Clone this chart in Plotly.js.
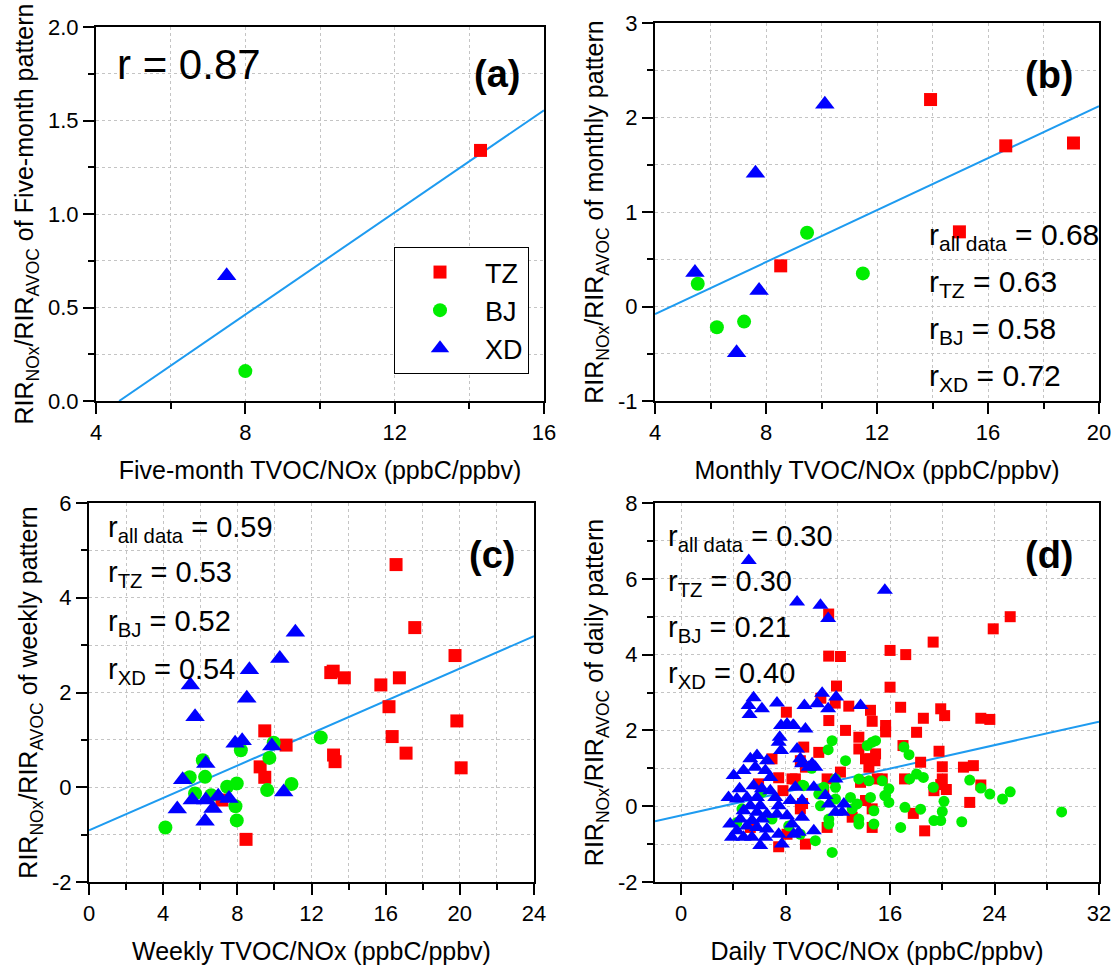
<!DOCTYPE html>
<html>
<head>
<meta charset="utf-8">
<script src="https://cdn.plot.ly/plotly-3.0.1.min.js"></script>
<style>html,body{margin:0;padding:0;background:#fff;}#chart{width:1119px;height:974px;}</style>
</head>
<body>
<div id="chart"></div>
<script>
// ---------- Panel (a): five-month pattern ----------
const a_tz_x = [14.3], a_tz_y = [1.34];
const a_bj_x = [8.0],  a_bj_y = [0.16];
const a_xd_x = [7.5],  a_xd_y = [0.67];
const a_fit_x = [4.62, 16], a_fit_y = [0, 1.555];

// ---------- Panel (b): monthly pattern ----------
const b_tz_x = [13.93, 16.64, 19.08, 14.97, 8.53];
const b_tz_y = [2.19, 1.70, 1.73, 0.79, 0.43];
const b_bj_x = [5.54, 6.23, 7.21, 9.48, 11.49];
const b_bj_y = [0.24, -0.22, -0.16, 0.78, 0.35];
const b_xd_x = [10.12, 7.62, 5.44, 7.75, 6.94];
const b_xd_y = [2.14, 1.41, 0.36, 0.17, -0.49];
const b_fit_x = [4, 20], b_fit_y = [-0.08, 2.12];

// ---------- Panel (c): weekly pattern ----------
const c_tz_x = [16.56,17.57,19.74,13.04,13.17,13.77,15.74,16.74,16.18,19.84,16.35,17.10,20.07,13.19,13.27,9.48,10.63,9.23,9.48,8.47,7.17];
const c_tz_y = [4.70,3.37,2.78,2.42,2.45,2.31,2.16,2.31,1.70,1.40,1.07,0.72,0.41,0.68,0.54,1.19,0.89,0.43,0.21,-1.10,-0.27];
const c_bj_x = [4.12,5.43,5.72,6.14,6.26,6.59,7.45,7.97,7.90,7.97,8.19,9.61,9.73,9.96,10.92,12.50];
const c_bj_y = [-0.85,0.21,-0.13,0.57,0.22,-0.17,0.01,0.08,-0.40,-0.70,0.78,-0.06,0.62,0.94,0.07,1.05];
const c_xd_x = [5.47,5.72,8.65,8.51,10.29,11.13,7.88,8.26,9.86,6.30,5.05,4.76,5.57,6.26,6.30,6.69,6.97,7.55,10.50];
const c_xd_y = [2.16,1.49,2.48,1.88,2.72,3.27,0.93,0.98,0.87,0.50,0.16,-0.46,-0.27,-0.72,-0.27,-0.45,-0.19,-0.24,-0.10];
const c_fit_x = [0, 24], c_fit_y = [-0.91, 3.19];

// ---------- Panel (d): daily pattern ----------
const d_tz_x = [11.3,25.2,23.9,19.3,16.0,17.2,11.3,12.2,16.0,11.9, 8.06,10.7,11.8,12.84,14.5,14.63,11.31,15.66,15.66,12.59,
  13.61,13.61,14.89,14.5,14.12,10.54,9.39,14.38,12.2,9.13, 8.75,9.52,11.18,13.74,15.4,14.63,13.1,14.12,11.18,9.52,
  9.13,10.92,14.63,6.96,7.47,8.49,7.8,5.3,7.47,8.11, 5.93,9.3,16.81,19.88,20.18,18.55,22.95,23.64,18.03,16.99,
  19.75,18.34,20.0,21.62,22.38,17.11,20.0,19.88,19.36,20.31, 22.95,22.1,17.78,18.65,15.02,14.84];
const d_tz_y = [5.07,5.0,4.68,4.33,4.11,4.0,3.96,3.95,3.14,3.17, 2.48,2.85,2.72,2.64,2.53,2.24,2.26,2.13,1.96,2.0,
  1.82,1.51,1.38,1.25,1.25,1.42,1.56,1.03,0.9,1.2, 0.72,1.03,0.72,0.63,0.72,-0.07,-0.29,0.15,-0.56,-1.0,
  -0.07,0.41,-0.56,1.25,0.75,0.72,0.41,-0.56,-1.07,-0.74, 0.59,0.07,2.61,2.57,2.39,2.32,2.32,2.29,1.95,1.6,
  1.45,1.16,1.04,1.03,1.07,0.72,0.72,0.57,0.41,0.44, 0.56,0.1,-0.19,-0.65,0.72,1.2];
const d_bj_x = [11.56,11.26,12.59,14.63,14.25,14.89,11.82,11.82,9.39,10.92, 10.54,10.67,13.61,14.38,15.4,15.91,15.66,14.5,12.97,13.48,
  13.1,11.82,11.31,11.31,13.61,13.61,14.76,14.76,10.28,11.56, 16.81,9.13,4.66,4.27,6.96,8.24,6.19,17.06,17.45,18.03,
  18.55,17.5,19.31,22.1,22.95,23.64,24.61,25.2,20.13,20.0, 19.88,19.36,18.34,17.14,21.49,29.14,15.91,10.0,9.3,15.6];
const d_bj_y = [1.73,1.49,1.2,1.69,1.6,1.73,0.72,0.5,0.54,0.5, 0.32,0.01,0.72,0.67,0.67,0.46,0.28,0.23,0.23,0.06,
  -0.07,0.19,-0.34,-0.47,-0.34,-0.47,-0.12,-0.47,-0.91,-1.22, -0.56,-0.74,-0.07,-0.43,-0.34,-0.52,0.37,1.56,1.36,0.85,
  0.76,0.72,0.5,0.69,0.48,0.32,0.19,0.38,0.13,-0.14, -0.38,-0.38,-0.08,-0.03,-0.41,-0.15,0.1,1.0,0.55,0.28];
const d_xd_x = [5.18,8.88,10.67,11.26,15.6,10.8,11.87,10.41,9.44,11.26, 13.74,8.62,9.52,8.88,9.13,9.26,10.03,10.28,9.77,8.75,
  10.16,11.82,11.05,9.26,11.31,12.46,11.82,12.33,9.26,10.16, 9.0,8.49,
  5.55,5.17,6.19,5.24,7.34,7.65,8.11,8.57,
  7.55,7.47,7.65,5.3,5.81,6.57,5.68,6.45,4.78,4.02, 6.83,5.55,4.48,6.19,6.83,3.63,4.27,5.04,5.81,7.21,
  8.36,5.3,6.06,7.47,4.78,5.81,6.57,7.34,8.11,4.53, 5.43,6.19,3.76,5.04,5.81,6.57,4.27,7.47,3.89,4.78,
  5.42,6.06,7.72,6.45,8.62];
const d_xd_y = [6.48,5.39,5.3,4.95,5.7,2.98,2.88,2.7,2.66,2.57, 2.66,2.13,2.04,1.51,1.25,1.12,1.12,1.03,1.03,0.5,
  0.5,0.72,0.28,0.15,0.06,0.06,-0.16,-0.16,-0.29,-0.65, -0.69,-0.47,
  2.86,2.66,2.57,2.42,2.72,2.13,2.17,2.13,
  1.82,1.69,1.47,1.25,1.34,1.2,1.03,0.94,0.94,0.81, 0.76,0.54,0.46,0.46,0.41,0.23,0.19,0.23,0.23,0.23,
  0.15,0.01,0.01,0.01,-0.12,-0.16,-0.21,-0.21,-0.25,-0.34, -0.38,-0.34,-0.47,-0.52,-0.56,-0.6,-0.65,-0.74,-0.82,-0.82,
  -0.82,-1.04,-1.0,-0.82,-0.74];
const d_fit_x = [-2, 32], d_fit_y = [-0.40, 2.23];

// ---------- labels ----------
const siteNames = ['TZ', 'BJ', 'XD'];
const xTitles = ['Five-month TVOC/NOx (ppbC/ppbv)', 'Monthly TVOC/NOx (ppbC/ppbv)', 'Weekly TVOC/NOx (ppbC/ppbv)', 'Daily TVOC/NOx (ppbC/ppbv)'];
const yTitles = ['RIR<sub>NOx</sub>/RIR<sub>AVOC</sub> of Five-month pattern', 'RIR<sub>NOx</sub>/RIR<sub>AVOC</sub> of monthly pattern',
                 'RIR<sub>NOx</sub>/RIR<sub>AVOC</sub> of weekly pattern', 'RIR<sub>NOx</sub>/RIR<sub>AVOC</sub> of daily pattern'];
const panelTags = ['(a)', '(b)', '(c)', '(d)'];
const rB = ['0.68', '0.63', '0.58', '0.72'];
const rC = ['0.59', '0.53', '0.52', '0.54'];
const rD = ['0.30', '0.30', '0.21', '0.40'];
const rSubs = ['all data', 'TZ', 'BJ', 'XD'];
const yTickA = [0, 0.5, 1, 1.5, 2], yTickB = [-1, 0, 1, 2, 3], yTickC = [-2, 0, 2, 4, 6], yTickD = [-2, 0, 2, 4, 6, 8];

// ---------- styling ----------
const FONT = 'Liberation Sans, Arial, Helvetica, sans-serif';
const GRID = '#c4c4c4';
const RED = '#ff0000', GREEN = '#00ee00', BLUE = '#0000ff', FIT = '#1e9bf0';
const colors = [RED, GREEN, BLUE];
const symbols = ['square', 'circle', 'triangle-up'];

function pts(x, y, k, ax, sz, show) {
  return {x: x, y: y, type: 'scatter', mode: 'markers', name: siteNames[k], showlegend: !!show,
    xaxis: ax[0], yaxis: ax[1], cliponaxis: true,
    marker: {symbol: symbols[k], color: colors[k], size: sz[k], line: {width: 0}}};
}
function fit(x, y, ax) {
  return {x: x, y: y, type: 'scatter', mode: 'lines', showlegend: false, xaxis: ax[0], yaxis: ax[1],
    line: {color: FIT, width: 2}, hoverinfo: 'skip'};
}
const big = [13, 14, 17], small = [11, 11, 14];
const A = ['x', 'y'], B = ['x2', 'y2'], C = ['x3', 'y3'], D = ['x4', 'y4'];

const data = [
  fit(a_fit_x, a_fit_y, A),
  pts(a_tz_x, a_tz_y, 0, A, big, true), pts(a_bj_x, a_bj_y, 1, A, big, true), pts(a_xd_x, a_xd_y, 2, A, big, true),
  fit(b_fit_x, b_fit_y, B),
  pts(b_tz_x, b_tz_y, 0, B, big), pts(b_bj_x, b_bj_y, 1, B, big), pts(b_xd_x, b_xd_y, 2, B, big),
  fit(c_fit_x, c_fit_y, C),
  pts(c_tz_x, c_tz_y, 0, C, big), pts(c_bj_x, c_bj_y, 1, C, big), pts(c_xd_x, c_xd_y, 2, C, big),
  fit(d_fit_x, d_fit_y, D),
  pts(d_tz_x, d_tz_y, 0, D, small), pts(d_bj_x, d_bj_y, 1, D, small), pts(d_xd_x, d_xd_y, 2, D, small)
];

function minorOf(dt) {
  return {tick0: 0, dtick: dt, ticks: 'outside', ticklen: 6, tickwidth: 2, tickcolor: '#000',
          showgrid: true, gridcolor: GRID, griddash: 'dot', gridwidth: 1};
}
function common() {
  return {ticks: 'outside', ticklen: 11, tickwidth: 2, tickcolor: '#000', showline: true, linewidth: 2,
    linecolor: '#000', mirror: true, showgrid: true, gridcolor: GRID, griddash: 'dot', gridwidth: 1,
    zeroline: false, tickfont: {family: FONT, size: 22, color: '#000'}, fixedrange: true, automargin: false};
}
function xAxis(range, dt, mdt, dom, anchor, title) {
  return Object.assign(common(), {domain: dom, anchor: anchor, range: range, tickmode: 'linear', tick0: 0, dtick: dt,
    minor: minorOf(mdt), title: {text: title, font: {family: FONT, size: 25, color: '#000'}, standoff: 17}});
}
function yAxis(range, ticks, fmt, mdt, dom, anchor, title) {
  const o = Object.assign(common(), {domain: dom, anchor: anchor, range: range, minor: minorOf(mdt),
    title: {text: title, font: {family: FONT, size: 25, color: '#000'}, standoff: 7}});
  o.tickmode = 'array';
  o.tickvals = ticks;
  o.ticktext = ticks.map(v => fmt ? v.toFixed(1) : String(v));
  return o;
}

const W = 1119, H = 974;
const dxA = [96 / W, 544 / W], dxB = [655 / W, 1099 / W], dxC = [89 / W, 534 / W], dxD = [655 / W, 1099 / W];
const dyA = [1 - 401 / H, 1 - 27 / H], dyB = [1 - 401 / H, 1 - 23 / H], dyCD = [1 - 882 / H, 1 - 503 / H];

function ann(xr, yr, x, y, text, size, xanchor) {
  return {xref: xr, yref: yr, x: x, y: y, text: text, showarrow: false, xanchor: xanchor || 'left', yanchor: 'middle',
          font: {family: FONT, size: size, color: '#000'}};
}
function rLines(xr, yr, x, ys, vals, size) {
  return ys.map((y, i) => ann(xr, yr, x, y, 'r<sub>' + rSubs[i] + '</sub> = ' + vals[i], size));
}

const annotations = [
  ann('x', 'y', 4.5, 1.80, 'r = 0.87', 42),
  ann('x', 'y', 14.75, 1.75, '<b>' + panelTags[0] + '</b>', 38, 'center'),
  ann('x2', 'y2', 18.2, 2.45, '<b>' + panelTags[1] + '</b>', 38, 'center'),
  ann('x3', 'y3', 21.76, 4.91, '<b>' + panelTags[2] + '</b>', 38, 'center'),
  ann('x4', 'y4', 28.18, 6.63, '<b>' + panelTags[3] + '</b>', 38, 'center')
].concat(
  rLines('x2', 'y2', 13.8, [0.74, 0.245, -0.255, -0.75], rB, 30),
  rLines('x3', 'y3', 0.9, [5.45, 4.5, 3.46, 2.45], rC, 29),
  rLines('x4', 'y4', -1.15, [7.08, 5.9, 4.68, 3.46], rD, 29)
);

const layout = {
  width: W, height: H, margin: {l: 0, r: 0, t: 0, b: 0}, paper_bgcolor: '#fff', plot_bgcolor: '#fff',
  font: {family: FONT, color: '#000'},
  showlegend: true,
  legend: {x: 394 / W, y: 1 - 247 / H, xanchor: 'left', yanchor: 'top', bordercolor: '#000', borderwidth: 1,
           bgcolor: '#fff', font: {family: FONT, size: 27, color: '#000'}, itemwidth: 80, tracegroupgap: 0},
  xaxis: xAxis([4, 16], 4, 2, dxA, 'y', xTitles[0]),
  yaxis: yAxis([0, 2], yTickA, true, 0.25, dyA, 'x', yTitles[0]),
  xaxis2: xAxis([4, 20], 4, 2, dxB, 'y2', xTitles[1]),
  yaxis2: yAxis([-1, 3], yTickB, false, 0.5, dyB, 'x2', yTitles[1]),
  xaxis3: xAxis([0, 24], 4, 2, dxC, 'y3', xTitles[2]),
  yaxis3: yAxis([-2, 6], yTickC, false, 1, dyCD, 'x3', yTitles[2]),
  xaxis4: xAxis([-2, 32], 8, 4, dxD, 'y4', xTitles[3]),
  yaxis4: yAxis([-2, 8], yTickD, false, 1, dyCD, 'x4', yTitles[3]),
  annotations: annotations
};

Plotly.newPlot('chart', data, layout, {staticPlot: true, displayModeBar: false});
</script>
</body>
</html>
